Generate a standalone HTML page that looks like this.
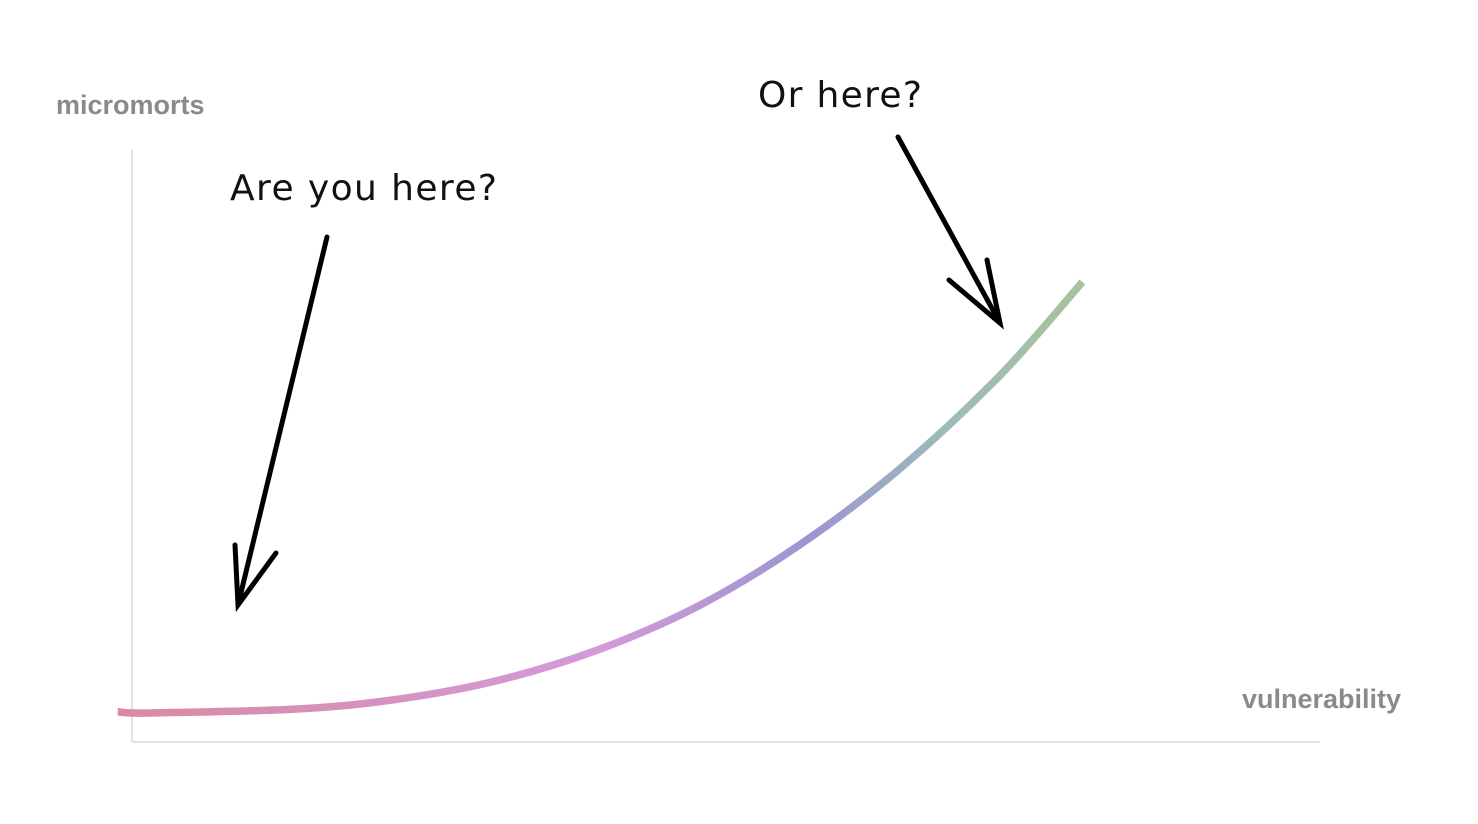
<!DOCTYPE html>
<html><head><meta charset="utf-8"><style>
html,body{margin:0;padding:0;background:#fff;}
svg{display:block;}
.lbl{font-family:"Liberation Sans",sans-serif;font-weight:bold;fill:#8a8a8a;font-size:27px;}
.hand{font-family:"DejaVu Sans","Liberation Sans",sans-serif;fill:#111;font-size:36px;}
</style></head><body>
<svg width="1478" height="824" viewBox="0 0 1478 824">
<defs>
<linearGradient id="cg" gradientUnits="userSpaceOnUse" x1="118" y1="0" x2="1082" y2="0">
<stop offset="0" stop-color="#d98aa2"/>
<stop offset="0.5" stop-color="#d39ad8"/>
<stop offset="0.72" stop-color="#9c95d2"/>
<stop offset="0.86" stop-color="#9cbcb8"/>
<stop offset="1" stop-color="#a9c29a"/>
</linearGradient>
</defs>
<line x1="132" y1="150" x2="132" y2="742" stroke="#d8d8d8" stroke-width="1.5"/>
<line x1="132" y1="742" x2="1320" y2="742" stroke="#d8d8d8" stroke-width="1.5"/>
<text x="56" y="114" class="lbl">micromorts</text>
<text x="1401" y="708" class="lbl" text-anchor="end">vulnerability</text>
<path id="curve" fill="none" stroke="url(#cg)" stroke-width="7.5" stroke-linecap="butt"/>
<text x="230" y="200" class="hand" textLength="267">Are you here?</text>
<text x="758" y="107" class="hand" textLength="164">Or here?</text>
<g stroke="#000" stroke-width="5" stroke-linecap="round" fill="none">
<line x1="327" y1="237" x2="238" y2="605"/>
<polyline points="235,545 238,605 276,553"/>
</g>
<g stroke="#000" stroke-width="5" stroke-linecap="round" fill="none">
<line x1="898" y1="137" x2="1000" y2="323"/>
<polyline points="949,280 1000,323 987,260"/>
</g>
</svg>
<script>
const vulnerability = [-1.2, 1.5, 14.1, 22.6, 31.0, 39.4, 47.8, 56.2, 64.6, 73.1, 80.0];
const micromorts = [5.1, 4.9, 5.6, 7.3, 10.5, 15.7, 23.1, 33.3, 46.1, 62.0, 77.7];
function xs(v){return 132 + v*(1320-132)/100;}
function ys(m){return 742 - m*(742-150)/100;}
const pts = vulnerability.map((v,i)=>[xs(v), ys(micromorts[i])]);
let d = "M" + pts[0][0] + "," + pts[0][1];
for (let i=0;i<pts.length-1;i++){
  const p0=pts[i-1]||pts[i], p1=pts[i], p2=pts[i+1], p3=pts[i+2]||p2;
  const c1=[p1[0]+(p2[0]-p0[0])/6, p1[1]+(p2[1]-p0[1])/6];
  const c2=[p2[0]-(p3[0]-p1[0])/6, p2[1]-(p3[1]-p1[1])/6];
  d += " C"+c1[0]+","+c1[1]+" "+c2[0]+","+c2[1]+" "+p2[0]+","+p2[1];
}
document.getElementById('curve').setAttribute('d', d);
</script>
</body></html>
